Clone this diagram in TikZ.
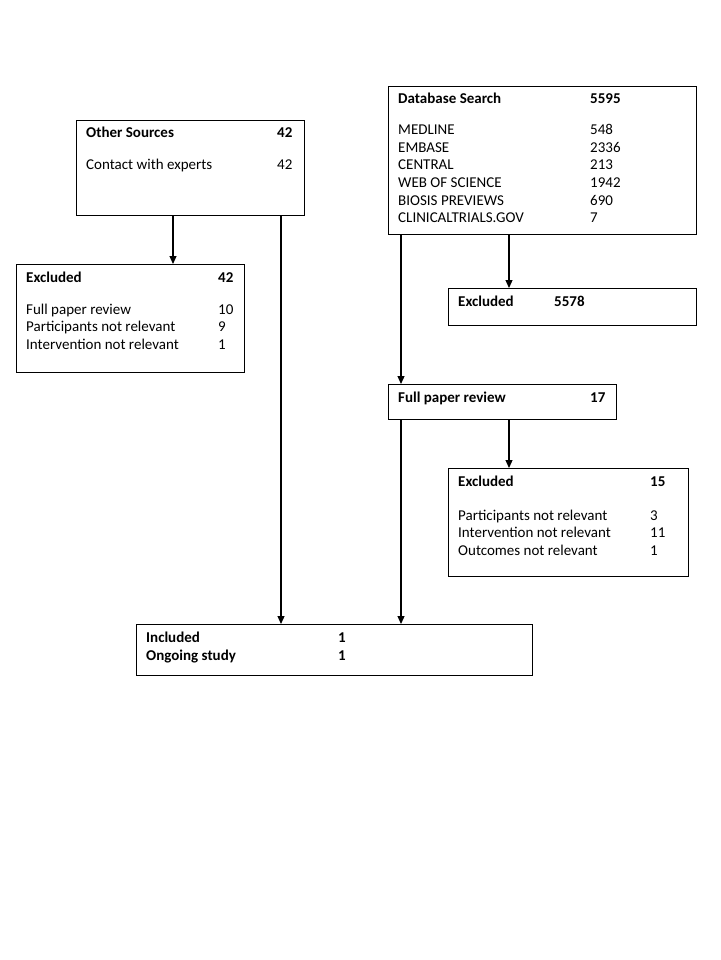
\documentclass[tikz,border=0pt]{standalone}
\usepackage{fontspec}
\setmainfont{Carlito}
\usetikzlibrary{arrows.meta}
\begin{document}
\begin{tikzpicture}[x=1pt,y=-1pt,
  box/.style={draw=black,line width=1.2pt,rectangle,inner sep=0pt,anchor=north west},
  txt/.style={anchor=base west,inner sep=0pt,font=\fontsize{15}{17.5}\selectfont},
  btxt/.style={txt,font=\fontsize{15}{17.5}\selectfont\bfseries},
  arr/.style={line width=1.2pt,-{Triangle[width=7pt,length=8pt]}}]
\useasboundingbox (0,0) rectangle (720,960);
\fill[white] (0,0) rectangle (720,960);
% boxes
\node[box,minimum width=228pt,minimum height=95pt] (os) at (76,120) {};
\node[box,minimum width=308pt,minimum height=148pt] (db) at (388,86) {};
\node[box,minimum width=228pt,minimum height=108pt] (exl) at (16,264) {};
\node[box,minimum width=248pt,minimum height=37pt] (exa) at (448,288) {};
\node[box,minimum width=228pt,minimum height=35pt] (fpr) at (388,384) {};
\node[box,minimum width=240pt,minimum height=108pt] (exb) at (448,468) {};
\node[box,minimum width=396pt,minimum height=51pt] (inc) at (136,624) {};
% connector columns
\coordinate (c1) at (173,0);
\coordinate (c2) at (281,0);
\coordinate (c3) at (401,0);
\coordinate (c4) at (509,0);
\draw[arr] (os.south -| c1) -- (exl.north -| c1);
\draw[arr] (os.south -| c2) -- (inc.north -| c2);
\draw[arr] (db.south -| c3) -- (fpr.north -| c3);
\draw[arr] (db.south -| c4) -- (exa.north -| c4);
\draw[arr] (fpr.south -| c3) -- (inc.north -| c3);
\draw[arr] (fpr.south -| c4) -- (exb.north -| c4);
% Other Sources
\node[btxt] (t1) at (86,138) {Other Sources};
\node[btxt] (t1n) at (277,138) {42};
\node[txt] (t2) at (86,170) {Contact with experts};
\node[txt] (t2n) at (277,170) {42};
% Database Search
\node[btxt] (d0) at (398,104) {Database Search};
\node[btxt] (d0n) at (590,104) {5595};
\node[txt] (d1) at (398,135) {MEDLINE};
\node[txt] (d1n) at (590,135) {548};
\node[txt] (d2) at (398,152.5) {EMBASE};
\node[txt] (d2n) at (590,152.5) {2336};
\node[txt] (d3) at (398,170) {CENTRAL};
\node[txt] (d3n) at (590,170) {213};
\node[txt] (d4) at (398,187.5) {WEB OF SCIENCE};
\node[txt] (d4n) at (590,187.5) {1942};
\node[txt] (d5) at (398,205) {BIOSIS PREVIEWS};
\node[txt] (d5n) at (590,205) {690};
\node[txt] (d6) at (398,222.5) {CLINICALTRIALS.GOV};
\node[txt] (d6n) at (590,222.5) {7};
% Excluded left
\node[btxt] (e0) at (26,282.5) {Excluded};
\node[btxt] (e0n) at (218,282.5) {42};
\node[txt] (e1) at (26,314) {Full paper review};
\node[txt] (e1n) at (218,314) {10};
\node[txt] (e2) at (26,331.5) {Participants not relevant};
\node[txt] (e2n) at (218,331.5) {9};
\node[txt] (e3) at (26,349) {Intervention not relevant};
\node[txt] (e3n) at (218,349) {1};
% Excluded 5578
\node[btxt] (x0) at (458,306.5) {Excluded};
\node[btxt] (x0n) at (554,306.5) {5578};
% Full paper review
\node[btxt] (f0) at (398,402.5) {Full paper review};
\node[btxt] (f0n) at (590,402.5) {17};
% Excluded 15
\node[btxt] (g0) at (458,486.5) {Excluded};
\node[btxt] (g0n) at (650,486.5) {15};
\node[txt] (g1) at (458,520) {Participants not relevant};
\node[txt] (g1n) at (650,520) {3};
\node[txt] (g2) at (458,537.5) {Intervention not relevant};
\node[txt] (g2n) at (650,537.5) {11};
\node[txt] (g3) at (458,555) {Outcomes not relevant};
\node[txt] (g3n) at (650,555) {1};
% Included
\node[btxt] (i0) at (146,642.5) {Included};
\node[btxt] (i0n) at (338,642.5) {1};
\node[btxt] (i1) at (146,660) {Ongoing study};
\node[btxt] (i1n) at (338,660) {1};
\end{tikzpicture}
\end{document}
